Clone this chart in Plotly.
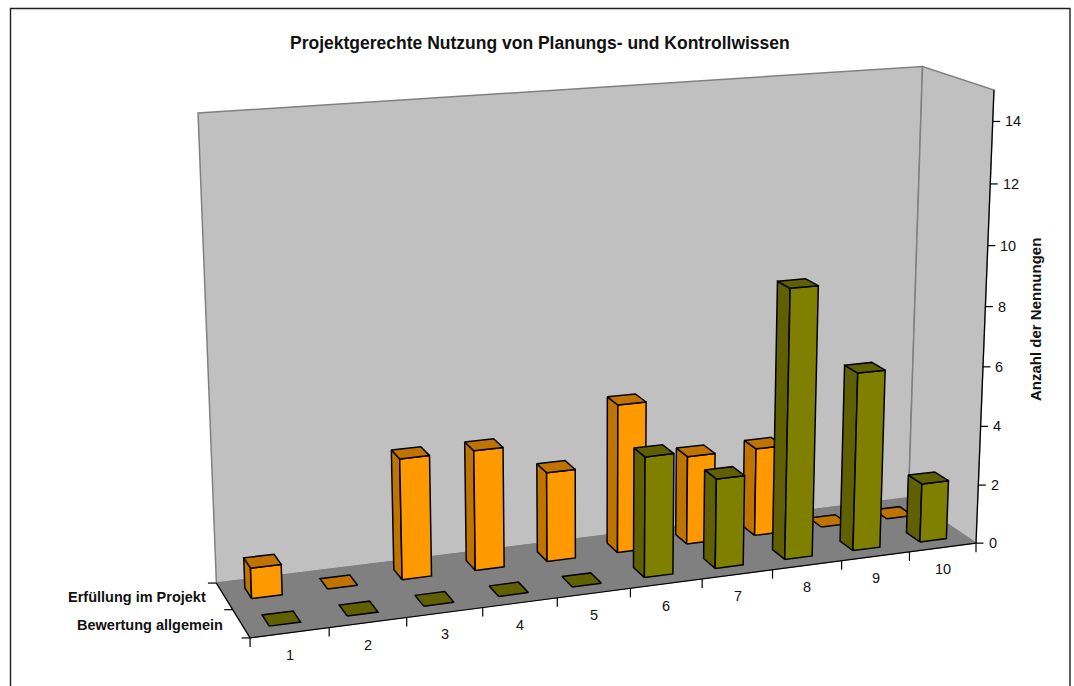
import numpy as np
import plotly.graph_objects as go

# Chart data
CATEGORIES = ["1", "2", "3", "4", "5", "6", "7", "8", "9", "10"]
ERFUELLUNG = [1, 0, 4, 4, 3, 5, 3, 3, 0, 0]
BEWERTUNG = [0, 0, 0, 0, 0, 4, 3, 9, 6, 2]
SERIES_NAMES = ["Bewertung allgemein", "Erfüllung im Projekt"]
VALUE_TICKS = [0, 2, 4, 6, 8, 10, 12, 14]
VALUE_MAX = 15
TITLE = "Projektgerechte Nutzung von Planungs- und Kontrollwissen"
VALUE_TITLE = "Anzahl der Nennungen"

# Colours
ORANGE, ORANGE_DARK = "#FF9900", "#BF7300"
OLIVE, OLIVE_DARK = "#808000", "#606000"
WALL, FLOOR, WALL_EDGE = "#C0C0C0", "#808080", "#808080"
INK = "#000000"
TEXT = "#111111"

# Perspective camera, solved from where the corners of the plot box land on the page.
n_cat = len(CATEGORIES)
BOX = [
    ((0, 0, 0), (250, 638)),
    ((n_cat, 0, 0), (976.5, 543)),
    ((0, 2, 0), (216.5, 583)),
    ((n_cat, 2, 0), (908, 498)),
    ((0, 2, VALUE_MAX), (198, 113)),
    ((n_cat, 0, VALUE_MAX), (993.5, 90)),
    ((n_cat, 2, VALUE_MAX), (923, 66.5)),
]


def solve_camera(pairs):
    rows, rhs = [], []
    for (x, y, z), (u, v) in pairs:
        rows.append([x, y, z, 1, 0, 0, 0, 0, -u * x, -u * y, -u * z])
        rhs.append(u)
        rows.append([0, 0, 0, 0, x, y, z, 1, -v * x, -v * y, -v * z])
        rhs.append(v)
    p = np.linalg.lstsq(np.array(rows, float), np.array(rhs, float), rcond=None)[0]
    return np.append(p, 1.0).reshape(3, 4)


CAM = solve_camera(BOX)


def project(points):
    pts = np.c_[np.array(points, float), np.ones(len(points))]
    h = pts @ CAM.T
    return h[:, 0] / h[:, 2], h[:, 1] / h[:, 2]


fig = go.Figure()


def polygon(points, fill, line=None, width=1.5):
    u, v = project(points)
    fig.add_trace(go.Scatter(
        x=np.r_[u, u[0]], y=np.r_[v, v[0]], mode="lines", fill="toself", fillcolor=fill,
        line=dict(color=line or fill, width=width), hoverinfo="skip", showlegend=False))


def segment(a, b, color=INK, width=1.2):
    u, v = project([a, b])
    fig.add_trace(go.Scatter(x=u, y=v, mode="lines", line=dict(color=color, width=width),
                             hoverinfo="skip", showlegend=False))


def screen_line(u, v, color=INK, width=1.2):
    fig.add_trace(go.Scatter(x=u, y=v, mode="lines", line=dict(color=color, width=width),
                             hoverinfo="skip", showlegend=False))


def label(u, v, text, size=14.5, bold=False, xanchor="center", angle=0):
    fig.add_annotation(x=u, y=v, xref="x", yref="y", text=f"<b>{text}</b>" if bold else text,
                       showarrow=False, xanchor=xanchor, yanchor="middle", textangle=angle,
                       font=dict(family="Liberation Sans, Arial", size=size, color=TEXT))


# Walls and floor
Y = 2
polygon([(0, Y, 0), (n_cat, Y, 0), (n_cat, Y, VALUE_MAX), (0, Y, VALUE_MAX)], WALL, WALL_EDGE, 1.5)
polygon([(n_cat, Y, 0), (n_cat, 0, 0), (n_cat, 0, VALUE_MAX), (n_cat, Y, VALUE_MAX)], WALL, WALL_EDGE, 1.5)
polygon([(0, 0, 0), (n_cat, 0, 0), (n_cat, Y, 0), (0, Y, 0)], FLOOR, FLOOR, 1)

# Axis lines
segment((0, 0, 0), (n_cat, 0, 0))
segment((0, 0, 0), (0, Y, 0))
segment((n_cat, 0, 0), (n_cat, 0, VALUE_MAX))

# Value axis ticks and labels
for tick in VALUE_TICKS:
    u, v = project([(n_cat, 0, tick)])
    screen_line([u[0], u[0] + 7.5], [v[0], v[0]])
    label(u[0] + 10.5, v[0], str(tick), xanchor="left")

# Category ticks and labels
for i in range(n_cat + 1):
    u, v = project([(i, 0, 0)])
    screen_line([u[0], u[0]], [v[0], v[0] + 9])
for i, cat in enumerate(CATEGORIES):
    u, v = project([(i + 0.5, 0, 0)])
    label(u[0], v[0] + 22, cat)

# Series ticks and labels
for j in range(Y + 1):
    u, v = project([(0, j, 0)])
    screen_line([u[0] - 8.5, u[0]], [v[0], v[0]])
for j, name in enumerate(SERIES_NAMES):
    u, v = project([(0, j + 0.5, 0)])
    label(u[0] - 16, v[0] + 1, name, bold=True, xanchor="right")

# Bars: back row first, and right to left within a row
GAP = 0.3
NUDGE = 0.01


def bar(i, row, value, face, dark):
    x0, x1 = i + GAP + NUDGE, i + 1 - GAP + NUDGE
    y0, y1 = row + GAP, row + 1 - GAP
    if value > 0:
        polygon([(x0, y0, 0), (x0, y1, 0), (x0, y1, value), (x0, y0, value)], dark, INK)
        polygon([(x0, y0, 0), (x1, y0, 0), (x1, y0, value), (x0, y0, value)], face, INK)
    polygon([(x0, y0, value), (x1, y0, value), (x1, y1, value), (x0, y1, value)], dark, INK)


for i in reversed(range(n_cat)):
    bar(i, 1, ERFUELLUNG[i], ORANGE, ORANGE_DARK)
for i in reversed(range(n_cat)):
    bar(i, 0, BEWERTUNG[i], OLIVE, OLIVE_DARK)

# Titles
label(540, 43, TITLE, size=17.5, bold=True)
label(1035, 320, VALUE_TITLE, size=15, bold=True, angle=-90)

# Chart frame
screen_line([10.5, 10.5, 1070, 1070], [700, 8.5, 8.5, 700], color="#202020", width=1.4)

fig.update_layout(
    width=1074, height=686, margin=dict(l=0, r=0, t=0, b=0),
    paper_bgcolor="white", plot_bgcolor="white", showlegend=False,
    xaxis=dict(range=[0, 1074], visible=False, fixedrange=True),
    yaxis=dict(range=[686, 0], visible=False, fixedrange=True),
)
fig.write_html("out.html", config=dict(displayModeBar=False))
